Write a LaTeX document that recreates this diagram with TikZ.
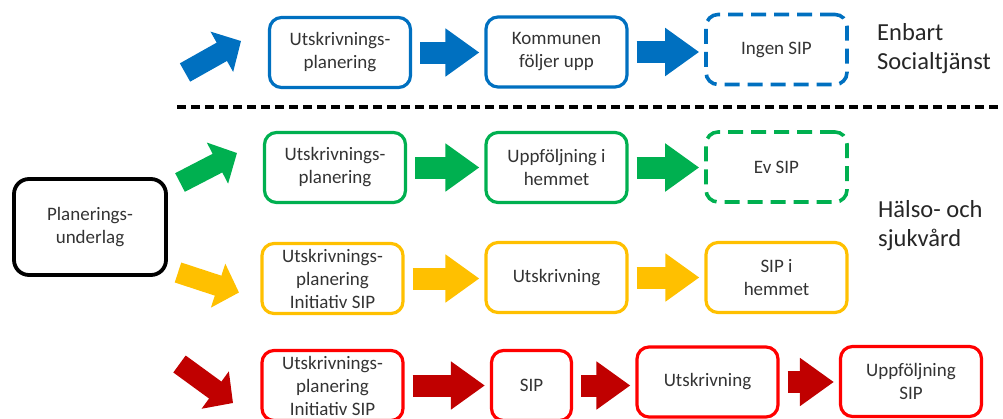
\documentclass[tikz,border=0pt]{standalone}
\usepackage{fontspec}
\setmainfont{Carlito}
\usetikzlibrary{arrows.meta}
\definecolor{ablue}{HTML}{0070C0}
\definecolor{agreen}{HTML}{00B050}
\definecolor{ayellow}{HTML}{FFC000}
\definecolor{ared}{HTML}{FF0000}
\definecolor{adark}{HTML}{C00000}
\begin{document}
\begin{tikzpicture}[x=1pt, y=-1pt,
    box/.style={draw, line width=3.2pt, rounded corners=12pt, minimum width=141pt, minimum height=70pt,
      align=center, inner sep=2pt, text=black!80, font=\fontsize{19}{23}\selectfont},
    dbox/.style={box, line width=3.6pt, dash pattern=on 15pt off 8pt},
    fat/.style={line width=22pt, -{Triangle[length=34pt, width=46pt]}, shorten <=8pt, shorten >=5pt},
    slant/.style={line width=21pt, -{Triangle[length=22pt, width=45pt]}},
    side/.style={anchor=west, inner sep=0pt, align=left, text=black!85, font=\fontsize{24.5}{29}\selectfont}]
  \useasboundingbox (0,0) rectangle (1003,418);
  % start box
  \node[box, draw=black, line width=3.8pt, rounded corners=15pt, minimum width=152pt, minimum height=96pt] (plan) at (90,227) {Planerings-\\underlag};
  % blue row
  \node[box, draw=ablue] (b1) at (340,52.5) {Utskrivnings-\\planering};
  \node[box, draw=ablue] (b2) at (556.5,52) {Kommunen\\följer upp};
  \node[dbox, draw=ablue] (b3) at (776.5,49.5) {Ingen SIP};
  % green row
  \node[box, draw=agreen] (g1) at (335,167.5) {Utskrivnings-\\planering};
  \node[box, draw=agreen] (g2) at (556.5,167.5) {Uppföljning i\\hemmet};
  \node[dbox, draw=agreen] (g3) at (776.5,167) {Ev SIP};
  % yellow row
  \node[box, draw=ayellow] (y1) at (332.5,278.5) {Utskrivnings-\\planering\\Initiativ SIP};
  \node[box, draw=ayellow] (y2) at (556.5,277.5) {Utskrivning};
  \node[box, draw=ayellow] (y3) at (776.5,277.5) {SIP i\\hemmet};
  % red row
  \node[box, draw=ared] (r1) at (332.5,385.5) {Utskrivnings-\\planering\\Initiativ SIP};
  \node[box, draw=ared, minimum width=80pt] (r2) at (531.5,385.5) {SIP};
  \node[box, draw=ared] (r3) at (707.5,382) {Utskrivning};
  \node[box, draw=ared] (r4) at (911,381.5) {Uppföljning\\SIP};
  % labels on the right
  \node[side] (soc) at (877,48.5) {Enbart\\Socialtjänst};
  \node[side] (hs) at (878,226) {Hälso- och\\sjukvård};
  % separator
  \coordinate (s1) at (177,107);
  \coordinate (s2) at (1003,107);
  \draw[line width=3.8pt, dash pattern=on 9pt off 5pt] (s1) -- (s2);
  % arrows out of the start box
  \coordinate (bs) at (185,72.5);   \coordinate (be) at (241,41);
  \coordinate (gs) at (180,182.5);  \coordinate (ge) at (237,153);
  \coordinate (ys) at (178,272.5);  \coordinate (ye) at (239,292.5);
  \coordinate (rs) at (179.5,364);  \coordinate (re) at (233,403);
  \draw[slant, ablue] (bs) -- (be);
  \draw[slant, agreen] (gs) -- (ge);
  \draw[slant, ayellow] (ys) -- (ye);
  \draw[slant, adark] (rs) -- (re);
  % arrows along the rows
  \draw[fat, ablue] (b1.east) -- (b1.east -| b2.west);
  \draw[fat, ablue] (b2.east) -- (b2.east -| b3.west);
  \draw[fat, agreen] (g1.east) -- (g1.east -| g2.west);
  \draw[fat, agreen] (g2.east) -- (g2.east -| g3.west);
  \draw[fat, ayellow] (y1.east) -- (y1.east -| y2.west);
  \draw[fat, ayellow] (y2.east) -- (y2.east -| y3.west);
  \draw[fat, adark] (r1.east) -- (r1.east -| r2.west);
  \draw[fat, adark] (r2.east) -- (r2.east -| r3.west);
  \draw[fat, adark] (r3.east) -- (r3.east -| r4.west);
\end{tikzpicture}
\end{document}
